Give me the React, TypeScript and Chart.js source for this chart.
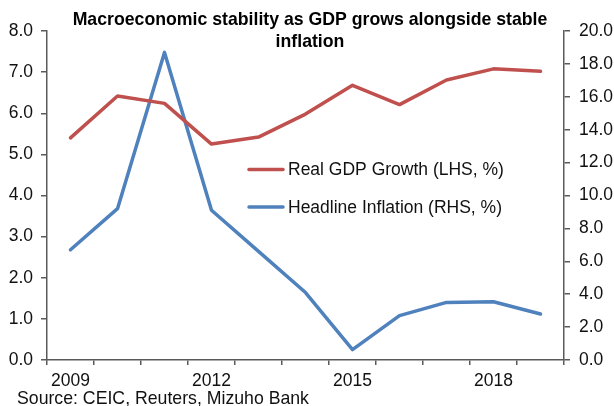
import React, { useEffect, useRef } from "react";
import { Chart, registerables } from "chart.js";

Chart.register(...registerables);

const years = ["2009", "2010", "2011", "2012", "2013", "2014", "2015", "2016", "2017", "2018", "2019"];
const gdpGrowth = [5.4, 6.42, 6.24, 5.25, 5.42, 5.98, 6.68, 6.21, 6.81, 7.08, 7.02];
const inflation = [6.7, 9.2, 18.7, 9.1, 6.6, 4.1, 0.63, 2.7, 3.5, 3.54, 2.8];
const leftTicks = [0, 8, 1];
const rightTicks = [0, 20, 2];
const titleLines = ["Macroeconomic stability as GDP grows alongside stable", "inflation"];
const sourceText = "Source: CEIC, Reuters, Mizuho Bank";
const seriesNames = ["Real GDP Growth (LHS, %)", "Headline Inflation (RHS, %)"];

const FONT = "'Liberation Sans', Arial, sans-serif";
const AXIS = "#5a5a5a";
const RED = "#C0504D";
const BLUE = "#4F81BD";

const overlayPlugin = {
  id: "overlay",
  afterDatasetsDraw(chart: any) {
    const ctx = chart.ctx as CanvasRenderingContext2D;
    ctx.save();
    // title
    ctx.fillStyle = "#000";
    ctx.font = `bold 17.7px ${FONT}`;
    ctx.textAlign = "center";
    ctx.textBaseline = "middle";
    ctx.fillText(titleLines[0], 310, 20);
    ctx.fillText(titleLines[1], 310, 42);
    // legend
    const ys = [169.5, 207];
    chart.data.datasets.forEach((ds: any, i: number) => {
      ctx.strokeStyle = ds.borderColor;
      ctx.lineWidth = 3.5;
      ctx.lineCap = "round";
      ctx.beginPath();
      ctx.moveTo(249, ys[i]);
      ctx.lineTo(283, ys[i]);
      ctx.stroke();
      ctx.fillStyle = "#111";
      ctx.font = `17.5px ${FONT}`;
      ctx.textAlign = "left";
      ctx.fillText(ds.label, 288, ys[i] + 1);
    });
    // source
    ctx.fillStyle = "#111";
    ctx.font = `17.7px ${FONT}`;
    ctx.textAlign = "left";
    ctx.fillText(sourceText, 17, 399);
    ctx.restore();
  },
};

export default function App() {
  const ref = useRef<HTMLCanvasElement>(null);
  useEffect(() => {
    if (!ref.current) return;
    const chart = new Chart(ref.current, {
      type: "line",
      data: {
        labels: years,
        datasets: [
          {
            label: seriesNames[0],
            data: gdpGrowth,
            borderColor: RED,
            backgroundColor: RED,
            borderWidth: 3.5,
            pointRadius: 0,
            tension: 0,
            borderCapStyle: "round",
            borderJoinStyle: "round",
            yAxisID: "y",
          },
          {
            label: seriesNames[1],
            data: inflation,
            borderColor: BLUE,
            backgroundColor: BLUE,
            borderWidth: 3.5,
            pointRadius: 0,
            tension: 0,
            borderCapStyle: "round",
            borderJoinStyle: "round",
            yAxisID: "y1",
          },
        ],
      },
      options: {
        animation: false,
        responsive: false,
        devicePixelRatio: 1,
        layout: { padding: { top: 31, left: 0, right: 0, bottom: 0 } },
        plugins: {
          legend: { display: false },
          title: { display: false },
          tooltip: { enabled: false },
        },
        scales: {
          x: {
            type: "category",
            offset: true,
            grid: {
              offset: true,
              drawOnChartArea: false,
              drawTicks: true,
              tickLength: 5,
              color: AXIS,
              lineWidth: 1.5,
            },
            border: { display: true, color: AXIS, width: 1.5 },
            ticks: {
              autoSkip: false,
              maxRotation: 0,
              padding: 6,
              color: "#111",
              font: { family: FONT, size: 17.5 },
              callback: (_v: any, i: number) => (i % 3 === 0 ? years[i] : ""),
            },
            afterFit: (s: any) => {
              s.height = 46;
            },
          },
          y: {
            position: "left",
            min: leftTicks[0],
            max: leftTicks[1],
            grid: { drawOnChartArea: false, tickLength: 6, color: AXIS, lineWidth: 1.5 },
            border: { display: true, color: AXIS, width: 1.5 },
            ticks: {
              stepSize: leftTicks[2],
              padding: 8,
              color: "#111",
              font: { family: FONT, size: 17.5 },
              callback: (v: any) => Number(v).toFixed(1),
            },
            afterFit: (s: any) => {
              s.width = 47;
            },
          },
          y1: {
            position: "right",
            min: rightTicks[0],
            max: rightTicks[1],
            grid: { drawOnChartArea: false, tickLength: 6, color: AXIS, lineWidth: 1.5 },
            border: { display: true, color: AXIS, width: 1.5 },
            ticks: {
              stepSize: rightTicks[2],
              padding: 9,
              color: "#111",
              font: { family: FONT, size: 17.5 },
              callback: (v: any) => Number(v).toFixed(1),
            },
            afterFit: (s: any) => {
              s.width = 50;
            },
          },
        },
      },
      plugins: [overlayPlugin],
    });
    return () => chart.destroy();
  }, []);
  return (
    <div style={{ position: "fixed", left: 0, top: 0, width: 614, height: 406, background: "#fff" }}>
      <canvas ref={ref} width={614} height={406} style={{ display: "block" }} />
    </div>
  );
}
